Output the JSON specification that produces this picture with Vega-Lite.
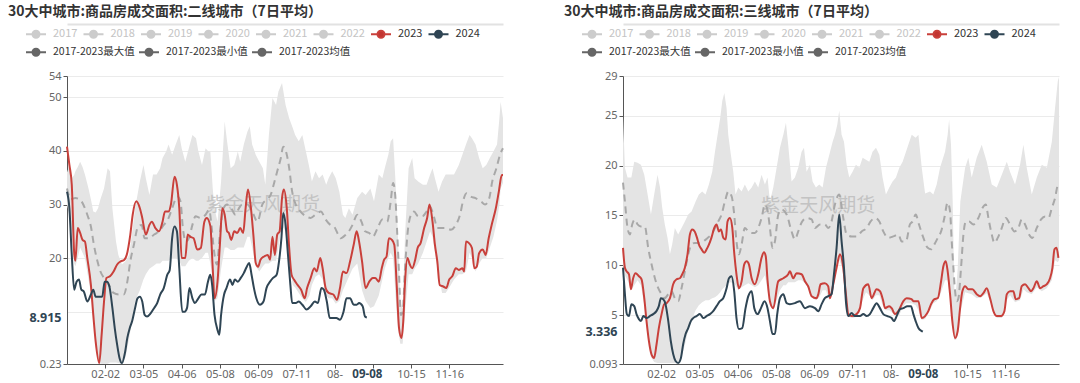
{
"$schema": "https://vega.github.io/schema/vega-lite/v6.json",
"background": "white",
"padding": {"left": 8, "top": 5, "right": 0, "bottom": 0},
"spacing": 57,
"config": {
  "view": {"stroke": null},
  "axis": {"labelFont": "Noto Sans", "labelFontSize": 11, "labelColor": "#666666", "domainColor": "#555555", "tickColor": "#555555", "tickSize": 4, "labelPadding": 2, "gridColor": "#ebebeb", "labelOverlap": false, "labelBound": false, "labelFlush": false},
  "axisX": {"labelPadding": 0},
  "legend": {"padding": 0, "labelLimit": 300, "labelFont": "Noto Sans CJK SC", "labelFontSize": 11},
  "title": {"font": "Noto Sans CJK SC", "fontSize": 14, "fontWeight": "bold", "color": "#333333"}
},
"datasets": {
"Lband": [
{"d":0,"lo":30,"hi":36},{"d":2,"lo":28,"hi":37.4},{"d":4,"lo":24,"hi":34.9},{"d":6,"lo":19,"hi":35.5},{"d":7,"lo":18.5,"hi":36.2},{"d":9,"lo":20,"hi":37},{"d":11,"lo":22,"hi":38},{"d":13,"lo":21,"hi":37},{"d":15,"lo":20,"hi":35.6},{"d":18,"lo":16,"hi":33},{"d":20,"lo":13.5,"hi":31},{"d":22,"lo":8.5,"hi":28.7},{"d":24,"lo":4,"hi":28.5},{"d":26,"lo":1.2,"hi":29.3},{"d":28,"lo":0.3,"hi":31},{"d":31,"lo":0.3,"hi":33},{"d":34,"lo":0.3,"hi":36.8},{"d":36,"lo":0.5,"hi":36.2},{"d":38,"lo":0.5,"hi":29.3},{"d":41,"lo":0.5,"hi":23.1},{"d":43,"lo":0.4,"hi":20.6},{"d":46,"lo":0.3,"hi":18.8},{"d":49,"lo":1.5,"hi":19.4},{"d":52,"lo":5,"hi":20.6},{"d":55,"lo":9,"hi":25.6},{"d":57,"lo":12,"hi":29.3},{"d":61,"lo":14,"hi":34.3},{"d":64,"lo":16,"hi":37.4},{"d":66,"lo":17,"hi":34.9},{"d":69,"lo":18,"hi":31.8},{"d":72,"lo":18.5,"hi":35.6},{"d":75,"lo":19,"hi":35.6},{"d":78,"lo":19,"hi":36.8},{"d":80,"lo":19.5,"hi":38.7},{"d":83,"lo":19.5,"hi":39.9},{"d":85,"lo":19.5,"hi":41.2},{"d":88,"lo":20,"hi":39.3},{"d":91,"lo":20,"hi":41.2},{"d":94,"lo":19.5,"hi":43},{"d":96,"lo":18.5,"hi":40.5},{"d":99,"lo":18.5,"hi":38},{"d":102,"lo":19.5,"hi":40.5},{"d":105,"lo":20,"hi":43},{"d":108,"lo":19.5,"hi":42.4},{"d":110,"lo":19.5,"hi":39.9},{"d":113,"lo":20,"hi":37.4},{"d":116,"lo":21,"hi":40.5},{"d":118,"lo":21,"hi":40},{"d":120,"lo":19,"hi":39.9},{"d":122,"lo":16,"hi":33},{"d":123.5,"lo":12,"hi":29.3},{"d":126,"lo":12.5,"hi":26.8},{"d":129,"lo":18,"hi":34.3},{"d":132,"lo":22,"hi":45.5},{"d":134,"lo":22,"hi":41.8},{"d":137,"lo":21.5,"hi":36.8},{"d":140,"lo":21.5,"hi":37.4},{"d":143,"lo":22,"hi":39.9},{"d":145,"lo":22,"hi":38},{"d":148,"lo":22,"hi":41.2},{"d":151,"lo":24,"hi":43.6},{"d":153,"lo":24,"hi":44.6},{"d":155,"lo":22,"hi":41.2},{"d":158,"lo":18.5,"hi":39.3},{"d":161,"lo":17.5,"hi":38},{"d":164,"lo":18.5,"hi":36.8},{"d":166,"lo":19,"hi":33.7},{"d":169,"lo":19,"hi":43},{"d":172,"lo":19.5,"hi":49.9},{"d":175,"lo":19.5,"hi":48.6},{"d":177,"lo":22,"hi":51.1},{"d":180,"lo":26,"hi":52.7},{"d":183,"lo":25,"hi":48.6},{"d":186,"lo":19,"hi":46.1},{"d":189,"lo":15,"hi":44.3},{"d":191,"lo":14.5,"hi":43},{"d":194,"lo":13.5,"hi":41.8},{"d":197,"lo":12.5,"hi":43},{"d":200,"lo":11.8,"hi":39.9},{"d":203,"lo":13,"hi":36.8},{"d":205,"lo":15,"hi":34.3},{"d":208,"lo":16.5,"hi":36.2},{"d":211,"lo":17,"hi":34.9},{"d":214,"lo":16,"hi":35.6},{"d":217,"lo":13,"hi":33.7},{"d":219,"lo":12.5,"hi":34.9},{"d":222,"lo":12.5,"hi":36.2},{"d":225,"lo":11.5,"hi":34.9},{"d":228,"lo":12,"hi":32.4},{"d":231,"lo":14,"hi":28.1},{"d":233,"lo":15,"hi":27.5},{"d":236,"lo":16.5,"hi":29.3},{"d":239,"lo":18,"hi":28.1},{"d":243,"lo":19,"hi":31.2},{"d":247,"lo":14,"hi":32.4},{"d":250,"lo":12,"hi":31.8},{"d":254,"lo":10.7,"hi":33},{"d":257,"lo":11,"hi":30.6},{"d":261,"lo":13,"hi":35.6},{"d":264,"lo":16,"hi":34.9},{"d":266,"lo":18,"hi":36.8},{"d":269,"lo":20,"hi":39.3},{"d":271,"lo":21,"hi":41.8},{"d":273,"lo":20,"hi":42.4},{"d":275,"lo":13,"hi":34.3},{"d":277,"lo":7,"hi":24.4},{"d":279,"lo":4,"hi":11.9},{"d":281,"lo":4,"hi":10.5},{"d":283,"lo":10,"hi":24.4},{"d":286,"lo":17,"hi":36.8},{"d":289,"lo":17,"hi":38.7},{"d":291,"lo":18,"hi":34.9},{"d":294,"lo":19,"hi":34.3},{"d":298,"lo":21,"hi":33.7},{"d":301,"lo":23,"hi":33.7},{"d":304,"lo":25,"hi":35.6},{"d":306,"lo":24,"hi":36.8},{"d":308,"lo":21,"hi":34.9},{"d":311,"lo":17,"hi":32.4},{"d":314,"lo":13.5,"hi":34.3},{"d":317,"lo":13.5,"hi":35.6},{"d":320,"lo":14.5,"hi":35.6},{"d":324,"lo":16,"hi":35.6},{"d":328,"lo":17,"hi":37.4},{"d":331,"lo":17,"hi":39.3},{"d":334,"lo":17.5,"hi":41.2},{"d":337,"lo":21,"hi":43},{"d":339,"lo":20,"hi":42.4},{"d":342,"lo":17.5,"hi":41.2},{"d":345,"lo":19,"hi":38.7},{"d":348,"lo":20,"hi":36.8},{"d":351,"lo":20,"hi":37.4},{"d":354,"lo":22,"hi":38.7},{"d":357,"lo":24,"hi":39.9},{"d":360,"lo":27,"hi":41.2},{"d":362,"lo":30,"hi":46.1},{"d":363,"lo":33,"hi":49.2},{"d":365,"lo":34,"hi":46.1}
],
"Lline": [
{"s":"avg","d":0,"v":33},{"s":"avg","d":3,"v":31},{"s":"avg","d":7,"v":31.2},{"s":"avg","d":11,"v":30.9},{"s":"avg","d":15,"v":29.3},{"s":"avg","d":17,"v":28.1},{"s":"avg","d":20,"v":25.9},{"s":"avg","d":22.5,"v":22.5},{"s":"avg","d":25.5,"v":19.4},{"s":"avg","d":28,"v":17.5},{"s":"avg","d":31,"v":16.3},{"s":"avg","d":35,"v":15},{"s":"avg","d":39,"v":13.5},{"s":"avg","d":43.5,"v":13.2},{"s":"avg","d":47.5,"v":13.2},{"s":"avg","d":50.5,"v":15.6},{"s":"avg","d":53,"v":19.4},{"s":"avg","d":56,"v":22.5},{"s":"avg","d":59.5,"v":25.9},{"s":"avg","d":62.5,"v":26.2},{"s":"avg","d":65,"v":23.7},{"s":"avg","d":68.5,"v":23.7},{"s":"avg","d":73,"v":24.4},{"s":"avg","d":77,"v":25},{"s":"avg","d":81,"v":26.2},{"s":"avg","d":84.5,"v":27.2},{"s":"avg","d":88,"v":29.3},{"s":"avg","d":92.5,"v":31.5},{"s":"avg","d":95,"v":30.6},{"s":"avg","d":97,"v":25.6},{"s":"avg","d":99.5,"v":23.1},{"s":"avg","d":102,"v":23.7},{"s":"avg","d":105,"v":26.2},{"s":"avg","d":107.5,"v":27.8},{"s":"avg","d":112,"v":27.5},{"s":"avg","d":116,"v":28.1},{"s":"avg","d":119,"v":29},{"s":"avg","d":121,"v":26},{"s":"avg","d":123,"v":21.5},{"s":"avg","d":125.5,"v":18.8},{"s":"avg","d":128,"v":24.4},{"s":"avg","d":131,"v":29.3},{"s":"avg","d":134,"v":30},{"s":"avg","d":137.5,"v":29.3},{"s":"avg","d":141,"v":28.1},{"s":"avg","d":144,"v":29.3},{"s":"avg","d":146.5,"v":30},{"s":"avg","d":151,"v":30},{"s":"avg","d":155,"v":28.7},{"s":"avg","d":159.5,"v":26.8},{"s":"avg","d":163.5,"v":30},{"s":"avg","d":167,"v":30.9},{"s":"avg","d":170.5,"v":31.8},{"s":"avg","d":173,"v":33.7},{"s":"avg","d":176,"v":36.2},{"s":"avg","d":179,"v":38.7},{"s":"avg","d":181,"v":40.8},{"s":"avg","d":184,"v":39.3},{"s":"avg","d":186,"v":36.8},{"s":"avg","d":188.5,"v":32.4},{"s":"avg","d":191.5,"v":30},{"s":"avg","d":195.5,"v":28.7},{"s":"avg","d":200,"v":27.8},{"s":"avg","d":204,"v":27.5},{"s":"avg","d":208,"v":28.1},{"s":"avg","d":212.5,"v":28.7},{"s":"avg","d":216.5,"v":27.2},{"s":"avg","d":220.5,"v":26.2},{"s":"avg","d":223.5,"v":25.9},{"s":"avg","d":227,"v":24.4},{"s":"avg","d":229,"v":23.7},{"s":"avg","d":233.5,"v":24.4},{"s":"avg","d":236,"v":25},{"s":"avg","d":239,"v":26.2},{"s":"avg","d":243,"v":28.1},{"s":"avg","d":246.5,"v":26.8},{"s":"avg","d":249.5,"v":25},{"s":"avg","d":253,"v":24.7},{"s":"avg","d":256,"v":24},{"s":"avg","d":260,"v":25.6},{"s":"avg","d":264,"v":27.2},{"s":"avg","d":268,"v":26.8},{"s":"avg","d":271,"v":30.6},{"s":"avg","d":273,"v":34},{"s":"avg","d":274.5,"v":32.4},{"s":"avg","d":276.5,"v":24.4},{"s":"avg","d":278,"v":16.9},{"s":"avg","d":279.5,"v":9.4},{"s":"avg","d":281,"v":10},{"s":"avg","d":283,"v":18.1},{"s":"avg","d":285,"v":24.4},{"s":"avg","d":288,"v":28.1},{"s":"avg","d":290.5,"v":28.7},{"s":"avg","d":294,"v":27.8},{"s":"avg","d":297.5,"v":27.8},{"s":"avg","d":301,"v":28.7},{"s":"avg","d":303.5,"v":29.7},{"s":"avg","d":307.5,"v":27.5},{"s":"avg","d":310,"v":25.6},{"s":"avg","d":314,"v":25.6},{"s":"avg","d":317,"v":25.6},{"s":"avg","d":321.5,"v":25.3},{"s":"avg","d":325.5,"v":26.2},{"s":"avg","d":329,"v":28.1},{"s":"avg","d":331.5,"v":30.6},{"s":"avg","d":334.5,"v":32.1},{"s":"avg","d":338,"v":31.5},{"s":"avg","d":342,"v":31.2},{"s":"avg","d":346.5,"v":30.6},{"s":"avg","d":350,"v":30},{"s":"avg","d":353.5,"v":31.2},{"s":"avg","d":356,"v":34.3},{"s":"avg","d":359.5,"v":36.8},{"s":"avg","d":362.5,"v":39.3},{"s":"avg","d":365,"v":40.5},
{"s":"2023","d":0,"v":40.8},{"s":"2023","d":2,"v":37.4},{"s":"2023","d":4,"v":33.7},{"s":"2023","d":6,"v":21},{"s":"2023","d":7,"v":19.5},{"s":"2023","d":9,"v":25.6},{"s":"2023","d":11,"v":24.7},{"s":"2023","d":13,"v":23.4},{"s":"2023","d":15,"v":23.1},{"s":"2023","d":17,"v":20},{"s":"2023","d":20,"v":15},{"s":"2023","d":22,"v":9.4},{"s":"2023","d":24,"v":4.4},{"s":"2023","d":27,"v":0.4},{"s":"2023","d":29,"v":5.7},{"s":"2023","d":31,"v":11.9},{"s":"2023","d":33,"v":16.3},{"s":"2023","d":36,"v":16.6},{"s":"2023","d":39,"v":17.5},{"s":"2023","d":42,"v":18.8},{"s":"2023","d":45,"v":19.4},{"s":"2023","d":48,"v":19.7},{"s":"2023","d":50,"v":20.6},{"s":"2023","d":53,"v":24.4},{"s":"2023","d":55,"v":28.1},{"s":"2023","d":58,"v":30.6},{"s":"2023","d":61,"v":29.3},{"s":"2023","d":63,"v":27.5},{"s":"2023","d":66,"v":24.4},{"s":"2023","d":69,"v":26.2},{"s":"2023","d":71,"v":26.8},{"s":"2023","d":74,"v":25.6},{"s":"2023","d":77,"v":25},{"s":"2023","d":80,"v":26.8},{"s":"2023","d":82,"v":28.7},{"s":"2023","d":85,"v":28.7},{"s":"2023","d":87,"v":30},{"s":"2023","d":90,"v":35.2},{"s":"2023","d":92,"v":33.7},{"s":"2023","d":94,"v":29.3},{"s":"2023","d":96,"v":20},{"s":"2023","d":99,"v":20},{"s":"2023","d":101,"v":24.4},{"s":"2023","d":103,"v":24},{"s":"2023","d":106,"v":23.7},{"s":"2023","d":109,"v":21.6},{"s":"2023","d":112,"v":21.9},{"s":"2023","d":115,"v":26.8},{"s":"2023","d":117,"v":27.5},{"s":"2023","d":120,"v":26},{"s":"2023","d":122,"v":18.1},{"s":"2023","d":123.5,"v":12.5},{"s":"2023","d":126,"v":15.6},{"s":"2023","d":128,"v":22.5},{"s":"2023","d":130,"v":29.3},{"s":"2023","d":132,"v":28.1},{"s":"2023","d":134,"v":25},{"s":"2023","d":135.5,"v":24.7},{"s":"2023","d":137.5,"v":23.4},{"s":"2023","d":140,"v":25},{"s":"2023","d":142.5,"v":24.7},{"s":"2023","d":145,"v":25.6},{"s":"2023","d":147.5,"v":24.7},{"s":"2023","d":149.5,"v":29.3},{"s":"2023","d":151.5,"v":32.8},{"s":"2023","d":154,"v":29.3},{"s":"2023","d":156,"v":24.4},{"s":"2023","d":158,"v":19.1},{"s":"2023","d":160,"v":18.4},{"s":"2023","d":162,"v":19.7},{"s":"2023","d":165,"v":20.3},{"s":"2023","d":168,"v":20.6},{"s":"2023","d":170,"v":19.7},{"s":"2023","d":172,"v":24},{"s":"2023","d":174,"v":20.6},{"s":"2023","d":176,"v":24.4},{"s":"2023","d":178,"v":25},{"s":"2023","d":180,"v":31.2},{"s":"2023","d":181.5,"v":32.8},{"s":"2023","d":184,"v":29.3},{"s":"2023","d":186,"v":21.9},{"s":"2023","d":188,"v":16.9},{"s":"2023","d":190,"v":16},{"s":"2023","d":193,"v":15},{"s":"2023","d":196,"v":14.1},{"s":"2023","d":199,"v":12.5},{"s":"2023","d":201,"v":14.4},{"s":"2023","d":204,"v":16.3},{"s":"2023","d":207,"v":18.1},{"s":"2023","d":209,"v":17.5},{"s":"2023","d":212,"v":20},{"s":"2023","d":214,"v":18.1},{"s":"2023","d":216.5,"v":14.4},{"s":"2023","d":219,"v":13.5},{"s":"2023","d":223,"v":13.2},{"s":"2023","d":226,"v":12.2},{"s":"2023","d":228.5,"v":14.4},{"s":"2023","d":231,"v":17.5},{"s":"2023","d":234,"v":17.2},{"s":"2023","d":237,"v":19.4},{"s":"2023","d":240,"v":22.5},{"s":"2023","d":242.5,"v":25},{"s":"2023","d":244.5,"v":23.1},{"s":"2023","d":247,"v":19.4},{"s":"2023","d":250,"v":14.4},{"s":"2023","d":253,"v":15.6},{"s":"2023","d":256,"v":16.3},{"s":"2023","d":258,"v":16.3},{"s":"2023","d":261,"v":15.6},{"s":"2023","d":263.5,"v":18.1},{"s":"2023","d":265.5,"v":19.7},{"s":"2023","d":267.5,"v":20.3},{"s":"2023","d":269.5,"v":23.7},{"s":"2023","d":272,"v":23.4},{"s":"2023","d":274,"v":22.5},{"s":"2023","d":276,"v":15},{"s":"2023","d":278,"v":6.9},{"s":"2023","d":280,"v":5.1},{"s":"2023","d":281.5,"v":8.2},{"s":"2023","d":283,"v":15.6},{"s":"2023","d":285,"v":20},{"s":"2023","d":287,"v":18.8},{"s":"2023","d":289,"v":18.1},{"s":"2023","d":291.5,"v":19.7},{"s":"2023","d":293.5,"v":21.9},{"s":"2023","d":296,"v":22.8},{"s":"2023","d":299,"v":25.6},{"s":"2023","d":301.5,"v":27.5},{"s":"2023","d":303.5,"v":30},{"s":"2023","d":306,"v":26.8},{"s":"2023","d":308,"v":22.5},{"s":"2023","d":310,"v":19.4},{"s":"2023","d":312,"v":15},{"s":"2023","d":315,"v":14.7},{"s":"2023","d":317.5,"v":14.4},{"s":"2023","d":320,"v":16},{"s":"2023","d":322.5,"v":16.6},{"s":"2023","d":325.5,"v":18.1},{"s":"2023","d":328,"v":17.8},{"s":"2023","d":331,"v":18.1},{"s":"2023","d":332.5,"v":17.5},{"s":"2023","d":334,"v":23.1},{"s":"2023","d":336.5,"v":22.8},{"s":"2023","d":339,"v":21.9},{"s":"2023","d":341,"v":18.1},{"s":"2023","d":343,"v":18.4},{"s":"2023","d":345,"v":20.9},{"s":"2023","d":348,"v":21.6},{"s":"2023","d":350.5,"v":20.6},{"s":"2023","d":353,"v":23.7},{"s":"2023","d":355.5,"v":26.2},{"s":"2023","d":359,"v":29.3},{"s":"2023","d":361.5,"v":32.4},{"s":"2023","d":364,"v":35.5},{"s":"2023","d":365,"v":35.5},
{"s":"2024","d":0,"v":32.4},{"s":"2024","d":2,"v":29.3},{"s":"2024","d":4,"v":20.6},{"s":"2024","d":6,"v":14.1},{"s":"2024","d":8,"v":15.6},{"s":"2024","d":10,"v":16},{"s":"2024","d":12,"v":14.1},{"s":"2024","d":14,"v":13.8},{"s":"2024","d":17,"v":11.9},{"s":"2024","d":20,"v":13.2},{"s":"2024","d":22,"v":14.1},{"s":"2024","d":24,"v":12.8},{"s":"2024","d":27,"v":12.8},{"s":"2024","d":29.5,"v":12.8},{"s":"2024","d":31.5,"v":15.6},{"s":"2024","d":33.5,"v":15.6},{"s":"2024","d":35.5,"v":14.7},{"s":"2024","d":38,"v":10.7},{"s":"2024","d":40,"v":6.9},{"s":"2024","d":42,"v":3.8},{"s":"2024","d":44,"v":1.3},{"s":"2024","d":46,"v":0.4},{"s":"2024","d":48.5,"v":2.3},{"s":"2024","d":50.5,"v":5.1},{"s":"2024","d":52.5,"v":6.9},{"s":"2024","d":54.5,"v":8.2},{"s":"2024","d":57,"v":10.7},{"s":"2024","d":59,"v":12.5},{"s":"2024","d":61,"v":12.8},{"s":"2024","d":63,"v":11.9},{"s":"2024","d":65,"v":9.4},{"s":"2024","d":67,"v":9.1},{"s":"2024","d":70,"v":9.7},{"s":"2024","d":73,"v":10.7},{"s":"2024","d":75.5,"v":11.6},{"s":"2024","d":78,"v":13.2},{"s":"2024","d":81,"v":14.4},{"s":"2024","d":84,"v":16.9},{"s":"2024","d":86,"v":17.8},{"s":"2024","d":88,"v":23.7},{"s":"2024","d":90,"v":25.9},{"s":"2024","d":92,"v":25},{"s":"2024","d":94,"v":18.1},{"s":"2024","d":96.5,"v":10},{"s":"2024","d":98.5,"v":10},{"s":"2024","d":100.5,"v":10.7},{"s":"2024","d":102.5,"v":14.4},{"s":"2024","d":105,"v":12.5},{"s":"2024","d":107,"v":11.6},{"s":"2024","d":110,"v":12.5},{"s":"2024","d":112.5,"v":13.2},{"s":"2024","d":115.5,"v":13.2},{"s":"2024","d":118,"v":15.6},{"s":"2024","d":120,"v":16.9},{"s":"2024","d":121.5,"v":15},{"s":"2024","d":123.5,"v":9.4},{"s":"2024","d":126,"v":6.6},{"s":"2024","d":127.5,"v":5.7},{"s":"2024","d":129,"v":9.4},{"s":"2024","d":131.5,"v":13.2},{"s":"2024","d":133.5,"v":14.4},{"s":"2024","d":136.5,"v":16},{"s":"2024","d":138.5,"v":15},{"s":"2024","d":140.5,"v":16},{"s":"2024","d":143,"v":15.6},{"s":"2024","d":145.5,"v":16.3},{"s":"2024","d":148,"v":17.2},{"s":"2024","d":150.5,"v":18.4},{"s":"2024","d":152.5,"v":19.1},{"s":"2024","d":154.5,"v":16.9},{"s":"2024","d":156.5,"v":14.4},{"s":"2024","d":158.5,"v":12.5},{"s":"2024","d":161.5,"v":11.3},{"s":"2024","d":164.5,"v":11.9},{"s":"2024","d":167,"v":14.4},{"s":"2024","d":170,"v":15.6},{"s":"2024","d":172.5,"v":16.3},{"s":"2024","d":175.5,"v":16.9},{"s":"2024","d":177.5,"v":19.4},{"s":"2024","d":179.5,"v":23.7},{"s":"2024","d":181,"v":28.4},{"s":"2024","d":183,"v":26.2},{"s":"2024","d":185,"v":20.6},{"s":"2024","d":187,"v":15},{"s":"2024","d":188.5,"v":11.6},{"s":"2024","d":191.5,"v":11.6},{"s":"2024","d":194,"v":11.9},{"s":"2024","d":197,"v":11.3},{"s":"2024","d":200.5,"v":10.4},{"s":"2024","d":204,"v":11},{"s":"2024","d":207.5,"v":11.9},{"s":"2024","d":210,"v":11.6},{"s":"2024","d":213,"v":14.4},{"s":"2024","d":215,"v":14.1},{"s":"2024","d":217.5,"v":11.9},{"s":"2024","d":220,"v":8.8},{"s":"2024","d":223,"v":8.8},{"s":"2024","d":225.5,"v":8.8},{"s":"2024","d":228.5,"v":8.5},{"s":"2024","d":231.5,"v":10},{"s":"2024","d":234,"v":12.5},{"s":"2024","d":237,"v":12.5},{"s":"2024","d":240,"v":11.3},{"s":"2024","d":242.5,"v":11.3},{"s":"2024","d":244.5,"v":11.6},{"s":"2024","d":247.5,"v":11},{"s":"2024","d":249.5,"v":9.1},{"s":"2024","d":251,"v":8.915}
],
"Rband": [
{"d":0,"lo":10,"hi":25},{"d":1.6,"lo":9,"hi":19.8},{"d":3.8,"lo":8.5,"hi":18.8},{"d":7,"lo":7.5,"hi":18.8},{"d":9.4,"lo":8,"hi":20.4},{"d":12.2,"lo":8.5,"hi":20.3},{"d":15,"lo":8,"hi":20.1},{"d":17.8,"lo":6,"hi":19.1},{"d":20.6,"lo":3.5,"hi":17.1},{"d":23.4,"lo":0.8,"hi":15.1},{"d":26.1,"lo":0.3,"hi":17.1},{"d":28.9,"lo":0.2,"hi":19.1},{"d":31,"lo":0.2,"hi":17.8},{"d":32.8,"lo":0.2,"hi":15.8},{"d":35,"lo":0.2,"hi":14.1},{"d":37.3,"lo":0.2,"hi":12.75},{"d":39.3,"lo":0.2,"hi":11.1},{"d":41.2,"lo":0.2,"hi":12.1},{"d":43.4,"lo":0.2,"hi":13.75},{"d":46.2,"lo":0.3,"hi":13.1},{"d":49,"lo":0.8,"hi":13.75},{"d":51.8,"lo":2,"hi":14.4},{"d":54.6,"lo":3.5,"hi":15.1},{"d":57.4,"lo":4.5,"hi":15.4},{"d":60.8,"lo":5.5,"hi":16.4},{"d":63.5,"lo":6,"hi":17.1},{"d":66.3,"lo":6.3,"hi":17.4},{"d":69.1,"lo":6.5,"hi":17.1},{"d":71.9,"lo":6.5,"hi":18.1},{"d":74.7,"lo":6.7,"hi":19.4},{"d":77,"lo":6.8,"hi":21.4},{"d":79.2,"lo":7,"hi":23.1},{"d":81.4,"lo":7.3,"hi":24.8},{"d":83.1,"lo":7.6,"hi":26.5},{"d":84.8,"lo":7.8,"hi":27.3},{"d":86.7,"lo":8,"hi":25.8},{"d":88.1,"lo":8.2,"hi":23.1},{"d":90.3,"lo":8.3,"hi":21.1},{"d":92.3,"lo":8.2,"hi":19.4},{"d":94.2,"lo":8,"hi":17.1},{"d":96.5,"lo":7.5,"hi":17.8},{"d":99.3,"lo":7.8,"hi":17.4},{"d":102,"lo":8,"hi":18.1},{"d":104.9,"lo":8.2,"hi":17.4},{"d":107.7,"lo":8,"hi":17.8},{"d":110.4,"lo":7.8,"hi":18.4},{"d":113.2,"lo":8,"hi":17.8},{"d":116,"lo":8.5,"hi":19.1},{"d":118.8,"lo":9,"hi":18.1},{"d":121,"lo":7.5,"hi":18.8},{"d":123,"lo":6,"hi":16.4},{"d":125.8,"lo":5.5,"hi":17.8},{"d":128.6,"lo":6.5,"hi":19.8},{"d":131.4,"lo":7.5,"hi":21.8},{"d":134.2,"lo":8,"hi":23.1},{"d":136.4,"lo":8,"hi":24.3},{"d":138.3,"lo":8.3,"hi":22.1},{"d":141.1,"lo":8.3,"hi":18.4},{"d":143.9,"lo":8.3,"hi":18.8},{"d":146.7,"lo":8.5,"hi":19.8},{"d":149.5,"lo":8.5,"hi":21.4},{"d":151.5,"lo":8.3,"hi":21.8},{"d":153.7,"lo":8,"hi":19.4},{"d":156.5,"lo":7.4,"hi":20.1},{"d":158.7,"lo":6.7,"hi":18.4},{"d":161.5,"lo":6.5,"hi":17.8},{"d":164.3,"lo":6.8,"hi":18.1},{"d":167.1,"lo":7.5,"hi":17.8},{"d":169.9,"lo":7.5,"hi":19.8},{"d":172.7,"lo":6.5,"hi":21.1},{"d":175.5,"lo":7.5,"hi":22.4},{"d":177.4,"lo":9,"hi":23.1},{"d":179.4,"lo":10,"hi":24.1},{"d":181,"lo":10.5,"hi":25.5},{"d":183,"lo":10,"hi":23.1},{"d":185,"lo":8.5,"hi":22.4},{"d":187.2,"lo":6,"hi":20.1},{"d":189.4,"lo":4.8,"hi":18.8},{"d":192.2,"lo":4.7,"hi":19.4},{"d":195,"lo":4.8,"hi":20.1},{"d":197.8,"lo":5.2,"hi":19.8},{"d":200.6,"lo":6.5,"hi":20.8},{"d":203.4,"lo":7.3,"hi":20.6},{"d":206.2,"lo":7,"hi":20.4},{"d":208.9,"lo":6.5,"hi":21.4},{"d":211.8,"lo":7,"hi":21.8},{"d":214.6,"lo":7,"hi":21.1},{"d":217.3,"lo":6,"hi":18.8},{"d":220.1,"lo":5.5,"hi":17.1},{"d":222.9,"lo":5.5,"hi":17.8},{"d":225.7,"lo":5.2,"hi":18.4},{"d":228.5,"lo":4.8,"hi":18.8},{"d":231.3,"lo":5,"hi":19.8},{"d":234.1,"lo":5.8,"hi":20.4},{"d":236.9,"lo":6.2,"hi":21.4},{"d":239.7,"lo":6.2,"hi":22.4},{"d":241.7,"lo":6.2,"hi":23.1},{"d":245,"lo":6,"hi":22.8},{"d":247.3,"lo":5.5,"hi":23.1},{"d":250.1,"lo":4.5,"hi":19.8},{"d":252.9,"lo":4.6,"hi":17.2},{"d":257,"lo":5.5,"hi":17.4},{"d":259.8,"lo":6.2,"hi":17.1},{"d":262.6,"lo":6.4,"hi":18.1},{"d":265.4,"lo":7,"hi":19.8},{"d":269.6,"lo":8.5,"hi":21.4},{"d":271.8,"lo":8.5,"hi":23.1},{"d":273,"lo":7.5,"hi":24.6},{"d":274.6,"lo":6,"hi":22.1},{"d":276,"lo":4,"hi":16.4},{"d":277.4,"lo":2.5,"hi":7.5},{"d":278.8,"lo":2.5,"hi":7.5},{"d":280.2,"lo":3,"hi":9.7},{"d":282.4,"lo":5.3,"hi":16.4},{"d":286.4,"lo":7.3,"hi":19.8},{"d":289.1,"lo":7.2,"hi":20.8},{"d":291.9,"lo":7.1,"hi":18.8},{"d":296.1,"lo":6.7,"hi":20.8},{"d":300.3,"lo":6.8,"hi":22.1},{"d":304.5,"lo":7.2,"hi":20.4},{"d":308.7,"lo":6,"hi":18.1},{"d":312.9,"lo":4.7,"hi":17.8},{"d":317.1,"lo":4.7,"hi":19.1},{"d":321.3,"lo":6.5,"hi":20.4},{"d":324,"lo":7,"hi":19.4},{"d":328.2,"lo":6.3,"hi":18.1},{"d":332.4,"lo":6.5,"hi":20.1},{"d":335.2,"lo":7.6,"hi":22.1},{"d":338,"lo":7.3,"hi":19.8},{"d":342.2,"lo":7.1,"hi":17.1},{"d":346.4,"lo":7.8,"hi":18.8},{"d":350.6,"lo":7.4,"hi":20.1},{"d":354.8,"lo":7.7,"hi":19.8},{"d":359,"lo":8.5,"hi":22.4},{"d":361.7,"lo":10.5,"hi":25.8},{"d":364,"lo":10.3,"hi":28.5},{"d":365,"lo":10.5,"hi":28.9}
],
"Rline": [
{"s":"avg","d":0,"v":18.3},{"s":"avg","d":1.6,"v":16.4},{"s":"avg","d":3.8,"v":13.75},{"s":"avg","d":5.8,"v":13.1},{"s":"avg","d":7.7,"v":14.1},{"s":"avg","d":10,"v":14.6},{"s":"avg","d":12.2,"v":14.1},{"s":"avg","d":15,"v":13.9},{"s":"avg","d":18.3,"v":13.9},{"s":"avg","d":21.1,"v":11.75},{"s":"avg","d":23.9,"v":10.1},{"s":"avg","d":26.7,"v":8.7},{"s":"avg","d":29.5,"v":7.7},{"s":"avg","d":32.3,"v":7.1},{"s":"avg","d":35,"v":6.7},{"s":"avg","d":37.9,"v":7.1},{"s":"avg","d":40.6,"v":7.4},{"s":"avg","d":43.4,"v":6.7},{"s":"avg","d":46.2,"v":6.4},{"s":"avg","d":49,"v":7.7},{"s":"avg","d":51.8,"v":9.4},{"s":"avg","d":54.6,"v":11.1},{"s":"avg","d":57.4,"v":12.1},{"s":"avg","d":60.2,"v":12.25},{"s":"avg","d":63.5,"v":12.25},{"s":"avg","d":67.2,"v":12.4},{"s":"avg","d":70.8,"v":12.75},{"s":"avg","d":74.1,"v":13.1},{"s":"avg","d":77,"v":13.75},{"s":"avg","d":79.7,"v":14.4},{"s":"avg","d":82.5,"v":15.1},{"s":"avg","d":85.3,"v":16.4},{"s":"avg","d":88.2,"v":17.4},{"s":"avg","d":91,"v":16.9},{"s":"avg","d":93.1,"v":15.1},{"s":"avg","d":95,"v":12.4},{"s":"avg","d":97,"v":11.1},{"s":"avg","d":99.3,"v":12.1},{"s":"avg","d":102,"v":13.75},{"s":"avg","d":104.9,"v":13.4},{"s":"avg","d":107.7,"v":13.25},{"s":"avg","d":110.4,"v":13.25},{"s":"avg","d":113.2,"v":13.75},{"s":"avg","d":116,"v":14.75},{"s":"avg","d":118.8,"v":16.1},{"s":"avg","d":121,"v":15.5},{"s":"avg","d":123,"v":13.75},{"s":"avg","d":125.2,"v":11.75},{"s":"avg","d":127.2,"v":12.4},{"s":"avg","d":130,"v":15.1},{"s":"avg","d":132.8,"v":15.6},{"s":"avg","d":137,"v":15.1},{"s":"avg","d":141.1,"v":13.4},{"s":"avg","d":143.9,"v":12.6},{"s":"avg","d":146.7,"v":13.4},{"s":"avg","d":149.5,"v":14.3},{"s":"avg","d":153.7,"v":14.75},{"s":"avg","d":157.9,"v":14.6},{"s":"avg","d":160.7,"v":13.75},{"s":"avg","d":164.9,"v":14.1},{"s":"avg","d":169,"v":14.1},{"s":"avg","d":171.9,"v":13.75},{"s":"avg","d":174.6,"v":14.4},{"s":"avg","d":177.4,"v":16.1},{"s":"avg","d":181,"v":17.1},{"s":"avg","d":184.4,"v":14.75},{"s":"avg","d":187.2,"v":13.1},{"s":"avg","d":191.4,"v":12.9},{"s":"avg","d":195.6,"v":12.9},{"s":"avg","d":199.8,"v":13.4},{"s":"avg","d":204,"v":13.75},{"s":"avg","d":207.3,"v":14.4},{"s":"avg","d":210.9,"v":14.75},{"s":"avg","d":214.6,"v":14.4},{"s":"avg","d":217.9,"v":13.4},{"s":"avg","d":222.1,"v":12.75},{"s":"avg","d":226.3,"v":12.9},{"s":"avg","d":230.5,"v":13.1},{"s":"avg","d":233.3,"v":12.4},{"s":"avg","d":236.9,"v":12.4},{"s":"avg","d":240.2,"v":14.1},{"s":"avg","d":242.5,"v":14.4},{"s":"avg","d":245,"v":15.1},{"s":"avg","d":247.8,"v":14.1},{"s":"avg","d":251.5,"v":12.75},{"s":"avg","d":255.1,"v":11.75},{"s":"avg","d":257.9,"v":11.6},{"s":"avg","d":260.7,"v":12.1},{"s":"avg","d":263.5,"v":12.75},{"s":"avg","d":266.3,"v":13.4},{"s":"avg","d":269,"v":14.75},{"s":"avg","d":271.8,"v":16.3},{"s":"avg","d":273.8,"v":15.4},{"s":"avg","d":275.2,"v":12.4},{"s":"avg","d":276.6,"v":9.75},{"s":"avg","d":278,"v":7.4},{"s":"avg","d":279.4,"v":6.4},{"s":"avg","d":280.8,"v":6.7},{"s":"avg","d":283,"v":9.75},{"s":"avg","d":285,"v":13.1},{"s":"avg","d":287,"v":14.4},{"s":"avg","d":289.7,"v":14.4},{"s":"avg","d":293.3,"v":14.1},{"s":"avg","d":297.5,"v":14.75},{"s":"avg","d":300.9,"v":15.75},{"s":"avg","d":303.7,"v":16.1},{"s":"avg","d":305.9,"v":14.75},{"s":"avg","d":308.7,"v":13.1},{"s":"avg","d":310.9,"v":12.25},{"s":"avg","d":313.7,"v":12.75},{"s":"avg","d":317.1,"v":13.75},{"s":"avg","d":320.4,"v":14.75},{"s":"avg","d":324,"v":14.1},{"s":"avg","d":327.7,"v":13.4},{"s":"avg","d":331,"v":13.75},{"s":"avg","d":333.8,"v":14.6},{"s":"avg","d":336.6,"v":14.1},{"s":"avg","d":339.9,"v":13.1},{"s":"avg","d":342.7,"v":12.75},{"s":"avg","d":346.4,"v":13.75},{"s":"avg","d":350,"v":14.6},{"s":"avg","d":353.4,"v":14.9},{"s":"avg","d":356.2,"v":14.75},{"s":"avg","d":359,"v":15.75},{"s":"avg","d":361.7,"v":16.75},{"s":"avg","d":364,"v":18.1},{"s":"avg","d":365,"v":18.3},
{"s":"2023","d":0,"v":11.75},{"s":"2023","d":1.6,"v":9.75},{"s":"2023","d":3,"v":9.4},{"s":"2023","d":5,"v":9.1},{"s":"2023","d":6.6,"v":7.6},{"s":"2023","d":8.5,"v":8.7},{"s":"2023","d":10.5,"v":9.2},{"s":"2023","d":13.3,"v":8.9},{"s":"2023","d":15.5,"v":8.6},{"s":"2023","d":17.8,"v":6.7},{"s":"2023","d":19.7,"v":4.4},{"s":"2023","d":21.7,"v":2.4},{"s":"2023","d":24,"v":1},{"s":"2023","d":26,"v":0.7},{"s":"2023","d":28,"v":2},{"s":"2023","d":30,"v":3.7},{"s":"2023","d":32.3,"v":5.1},{"s":"2023","d":34.5,"v":6.1},{"s":"2023","d":36.5,"v":6.2},{"s":"2023","d":39.3,"v":6.7},{"s":"2023","d":42,"v":8.1},{"s":"2023","d":44.8,"v":8.6},{"s":"2023","d":47.6,"v":8.7},{"s":"2023","d":49.6,"v":9.1},{"s":"2023","d":51.8,"v":9.75},{"s":"2023","d":54,"v":11.1},{"s":"2023","d":56,"v":13.1},{"s":"2023","d":58,"v":13.6},{"s":"2023","d":60,"v":13.4},{"s":"2023","d":62,"v":12.75},{"s":"2023","d":63.5,"v":12.1},{"s":"2023","d":65.8,"v":11.6},{"s":"2023","d":68,"v":11.25},{"s":"2023","d":70,"v":11.6},{"s":"2023","d":72,"v":12.1},{"s":"2023","d":74,"v":12.75},{"s":"2023","d":76.4,"v":13.75},{"s":"2023","d":78.3,"v":14.1},{"s":"2023","d":80.3,"v":13.4},{"s":"2023","d":82,"v":13.6},{"s":"2023","d":84,"v":12.75},{"s":"2023","d":86,"v":12.6},{"s":"2023","d":87.5,"v":14.4},{"s":"2023","d":89.5,"v":14.75},{"s":"2023","d":91.5,"v":13.75},{"s":"2023","d":93,"v":11.4},{"s":"2023","d":95,"v":9.1},{"s":"2023","d":97,"v":7.7},{"s":"2023","d":99.3,"v":8.4},{"s":"2023","d":101.5,"v":10.1},{"s":"2023","d":103.5,"v":10.4},{"s":"2023","d":105.4,"v":10.1},{"s":"2023","d":107.7,"v":8.7},{"s":"2023","d":110.4,"v":8.1},{"s":"2023","d":113.2,"v":9.1},{"s":"2023","d":116,"v":10.75},{"s":"2023","d":118,"v":11.3},{"s":"2023","d":119.5,"v":10.9},{"s":"2023","d":121,"v":8.5},{"s":"2023","d":123,"v":6.4},{"s":"2023","d":125.8,"v":5.7},{"s":"2023","d":130,"v":8.4},{"s":"2023","d":134.2,"v":8.7},{"s":"2023","d":138.3,"v":9.1},{"s":"2023","d":139.7,"v":9.4},{"s":"2023","d":142.5,"v":8.7},{"s":"2023","d":145.3,"v":9.2},{"s":"2023","d":149.5,"v":9.1},{"s":"2023","d":152.3,"v":8.4},{"s":"2023","d":155,"v":7.9},{"s":"2023","d":157.9,"v":6.9},{"s":"2023","d":162,"v":6.7},{"s":"2023","d":163.5,"v":7.1},{"s":"2023","d":165.4,"v":8.1},{"s":"2023","d":169,"v":8.2},{"s":"2023","d":171.8,"v":7.9},{"s":"2023","d":173.2,"v":6.7},{"s":"2023","d":176,"v":8.1},{"s":"2023","d":178.8,"v":9.75},{"s":"2023","d":181.6,"v":11.1},{"s":"2023","d":184.4,"v":9.75},{"s":"2023","d":186.6,"v":7.1},{"s":"2023","d":188.6,"v":5.1},{"s":"2023","d":191.4,"v":4.9},{"s":"2023","d":195.6,"v":5.1},{"s":"2023","d":198.4,"v":5.7},{"s":"2023","d":201.2,"v":7.7},{"s":"2023","d":205.3,"v":8.1},{"s":"2023","d":208.1,"v":6.7},{"s":"2023","d":212.3,"v":7.6},{"s":"2023","d":215.1,"v":7.4},{"s":"2023","d":217.9,"v":6.4},{"s":"2023","d":219.3,"v":5.7},{"s":"2023","d":222.9,"v":5.9},{"s":"2023","d":224.9,"v":5.7},{"s":"2023","d":227.7,"v":5.1},{"s":"2023","d":230.5,"v":5.4},{"s":"2023","d":234.7,"v":6.4},{"s":"2023","d":237.4,"v":6.7},{"s":"2023","d":241.6,"v":6.6},{"s":"2023","d":243.1,"v":6.4},{"s":"2023","d":247.3,"v":6.4},{"s":"2023","d":250.1,"v":4.7},{"s":"2023","d":252.9,"v":4.9},{"s":"2023","d":255.6,"v":5.4},{"s":"2023","d":257.9,"v":6.1},{"s":"2023","d":260.7,"v":6.6},{"s":"2023","d":263.5,"v":6.7},{"s":"2023","d":266.3,"v":8.4},{"s":"2023","d":268.2,"v":9.9},{"s":"2023","d":270.2,"v":10.4},{"s":"2023","d":271.8,"v":9.4},{"s":"2023","d":273.8,"v":7.1},{"s":"2023","d":275.7,"v":4.4},{"s":"2023","d":278,"v":2.7},{"s":"2023","d":280.2,"v":3.4},{"s":"2023","d":282.2,"v":5.7},{"s":"2023","d":284.1,"v":7.4},{"s":"2023","d":286.4,"v":7.9},{"s":"2023","d":289.1,"v":7.6},{"s":"2023","d":292.5,"v":7.6},{"s":"2023","d":296.1,"v":7.1},{"s":"2023","d":298.9,"v":6.9},{"s":"2023","d":301.7,"v":7.2},{"s":"2023","d":304.5,"v":7.7},{"s":"2023","d":307.3,"v":6.7},{"s":"2023","d":310.1,"v":5.4},{"s":"2023","d":312.9,"v":4.9},{"s":"2023","d":316.5,"v":4.9},{"s":"2023","d":319.3,"v":5.4},{"s":"2023","d":321.3,"v":7.1},{"s":"2023","d":324,"v":7.4},{"s":"2023","d":326.8,"v":7.4},{"s":"2023","d":328.8,"v":6.6},{"s":"2023","d":331.6,"v":6.7},{"s":"2023","d":333.8,"v":7.9},{"s":"2023","d":336.6,"v":8.1},{"s":"2023","d":339.4,"v":7.7},{"s":"2023","d":341.6,"v":7.4},{"s":"2023","d":343.6,"v":7.7},{"s":"2023","d":346.4,"v":8.4},{"s":"2023","d":349.2,"v":7.7},{"s":"2023","d":352,"v":7.9},{"s":"2023","d":354.8,"v":8.1},{"s":"2023","d":357.5,"v":8.7},{"s":"2023","d":359.5,"v":9.75},{"s":"2023","d":361.2,"v":11.6},{"s":"2023","d":362.9,"v":11.75},{"s":"2023","d":364.5,"v":10.75},
{"s":"2024","d":0,"v":9.75},{"s":"2024","d":1.6,"v":7.1},{"s":"2024","d":3.2,"v":5.1},{"s":"2024","d":5,"v":4.9},{"s":"2024","d":7,"v":6.1},{"s":"2024","d":9.4,"v":5.9},{"s":"2024","d":11.3,"v":5.1},{"s":"2024","d":13.3,"v":4.6},{"s":"2024","d":15,"v":4.4},{"s":"2024","d":17,"v":4.9},{"s":"2024","d":19.7,"v":4.7},{"s":"2024","d":22.5,"v":4.9},{"s":"2024","d":25.3,"v":5.1},{"s":"2024","d":28,"v":5.4},{"s":"2024","d":30,"v":5.9},{"s":"2024","d":31.7,"v":6.7},{"s":"2024","d":33.7,"v":6.6},{"s":"2024","d":35.6,"v":6.1},{"s":"2024","d":37.9,"v":4.4},{"s":"2024","d":40,"v":2.4},{"s":"2024","d":42,"v":1.1},{"s":"2024","d":44,"v":0.4},{"s":"2024","d":46.2,"v":0.2},{"s":"2024","d":48.5,"v":0.7},{"s":"2024","d":50.4,"v":2.1},{"s":"2024","d":52.4,"v":3.1},{"s":"2024","d":54.6,"v":3.7},{"s":"2024","d":56.8,"v":4.4},{"s":"2024","d":58.8,"v":4.7},{"s":"2024","d":61.6,"v":4.9},{"s":"2024","d":64.4,"v":5.1},{"s":"2024","d":67.2,"v":4.7},{"s":"2024","d":70,"v":4.9},{"s":"2024","d":72.8,"v":5.1},{"s":"2024","d":75.5,"v":5.4},{"s":"2024","d":78.3,"v":5.9},{"s":"2024","d":81.1,"v":6.4},{"s":"2024","d":83.9,"v":6.7},{"s":"2024","d":86.7,"v":7.7},{"s":"2024","d":88.7,"v":8.7},{"s":"2024","d":90.9,"v":8.9},{"s":"2024","d":93.1,"v":7.4},{"s":"2024","d":95,"v":4.7},{"s":"2024","d":97,"v":3.6},{"s":"2024","d":99.8,"v":3.7},{"s":"2024","d":102.6,"v":5.7},{"s":"2024","d":104.9,"v":6.9},{"s":"2024","d":107.7,"v":7.4},{"s":"2024","d":109.9,"v":5.7},{"s":"2024","d":112.7,"v":5.1},{"s":"2024","d":115.5,"v":5.7},{"s":"2024","d":118.5,"v":6.4},{"s":"2024","d":121,"v":5.7},{"s":"2024","d":123,"v":4.4},{"s":"2024","d":125.2,"v":3.1},{"s":"2024","d":127.2,"v":3.1},{"s":"2024","d":129.1,"v":5.1},{"s":"2024","d":131.4,"v":6.7},{"s":"2024","d":134.2,"v":7.1},{"s":"2024","d":137,"v":6.2},{"s":"2024","d":139.7,"v":6.1},{"s":"2024","d":143.9,"v":6.2},{"s":"2024","d":148.1,"v":6.4},{"s":"2024","d":152.3,"v":5.7},{"s":"2024","d":156.5,"v":5.9},{"s":"2024","d":160.7,"v":5.7},{"s":"2024","d":163.5,"v":5.4},{"s":"2024","d":166.3,"v":6.1},{"s":"2024","d":169,"v":6.7},{"s":"2024","d":171.9,"v":6.9},{"s":"2024","d":174.6,"v":7.1},{"s":"2024","d":176.6,"v":9.1},{"s":"2024","d":178.8,"v":11.75},{"s":"2024","d":181,"v":15.1},{"s":"2024","d":183,"v":12.4},{"s":"2024","d":185,"v":9.75},{"s":"2024","d":186.6,"v":6.4},{"s":"2024","d":188.6,"v":4.9},{"s":"2024","d":191.4,"v":5.2},{"s":"2024","d":194.2,"v":4.9},{"s":"2024","d":198.4,"v":4.9},{"s":"2024","d":201.2,"v":5.1},{"s":"2024","d":204,"v":4.9},{"s":"2024","d":206.7,"v":5.1},{"s":"2024","d":209.5,"v":5.7},{"s":"2024","d":212.3,"v":6.2},{"s":"2024","d":215.1,"v":5.7},{"s":"2024","d":217.9,"v":5.1},{"s":"2024","d":221.3,"v":4.9},{"s":"2024","d":224.9,"v":4.7},{"s":"2024","d":226.8,"v":4.4},{"s":"2024","d":229.1,"v":4.9},{"s":"2024","d":231.9,"v":5.6},{"s":"2024","d":234.7,"v":5.7},{"s":"2024","d":238,"v":5.9},{"s":"2024","d":241.1,"v":5.9},{"s":"2024","d":243.1,"v":5.1},{"s":"2024","d":245,"v":4.4},{"s":"2024","d":247.3,"v":3.7},{"s":"2024","d":250.1,"v":3.4},{"s":"2024","d":251,"v":3.336}
]
},
"hconcat": [
{
  "width": 436, "height": 288,
  "title": {"text": "30大中城市:商品房成交面积:二线城市（7日平均）", "anchor": "start", "frame": "group", "dx": -59, "offset": 4},
  "layer": [
    {
      "data": {"name": "Lband"},
      "mark": {"type": "area", "color": "#e4e4e4"},
      "encoding": {
        "x": {"field": "d", "type": "quantitative", "scale": {"domain": [0, 365], "nice": false, "zero": false},
          "axis": {"title": null, "grid": false, "values": [32, 64, 96, 128, 160, 192, 224, 251, 256, 288, 320],
            "labelExpr": "datum.value == 251 ? '09-08' : ['02-02','03-05','04-06','05-08','06-09','07-11','08-','','10-15','11-16'][datum.value/32 - 1]",
            "tickColor": {"condition": {"test": "datum.value == 251", "value": "transparent"}, "value": "#555555"},
            "labelFontWeight": {"condition": {"test": "datum.value == 251", "value": "bold"}, "value": "normal"},
            "labelColor": {"condition": {"test": "datum.value == 251", "value": "#2f4554"}, "value": "#666666"},
            "labelFontSize": {"condition": {"test": "datum.value == 251", "value": 11.5}, "value": 11}}},
        "y": {"field": "hi", "type": "quantitative", "scale": {"domain": [0.23, 54], "nice": false, "zero": false},
          "axis": {"title": null, "values": [0.23, 8.915, 10, 20, 30, 40, 50, 54],
            "labelExpr": "datum.value == 10 ? '' : '' + datum.value",
            "gridColor": {"condition": {"test": "datum.value == 8.915 || datum.value == 0.23", "value": "transparent"}, "value": "#ebebeb"},
            "tickColor": {"condition": {"test": "datum.value == 8.915 || datum.value == 10", "value": "transparent"}, "value": "#555555"},
            "labelFontWeight": {"condition": {"test": "datum.value == 8.915", "value": "bold"}, "value": "normal"},
            "labelColor": {"condition": {"test": "datum.value == 8.915", "value": "#2f4554"}, "value": "#666666"},
            "labelFontSize": {"condition": {"test": "datum.value == 8.915", "value": 12.5}, "value": 11}}},
        "y2": {"field": "lo"}
      }
    },
    {
      "data": {"values": [{"d": 164, "v": 29.9, "t": "紫金天风期货"}]},
      "mark": {"type": "text", "font": "Noto Sans CJK SC", "fontSize": 19, "color": "#b8b8b8", "opacity": 0.75},
      "encoding": {
        "x": {"field": "d", "type": "quantitative", "axis": {"orient": "top", "labels": false, "ticks": false, "grid": false, "title": null, "domainColor": "#e2e2e2", "domainWidth": 2, "offset": 52}},
        "y": {"field": "v", "type": "quantitative"},
        "text": {"field": "t"}
      }
    },
    {
      "data": {"name": "Lline"},
      "transform": [{"filter": "datum.s == 'avg'"}],
      "mark": {"type": "line", "color": "#a8a8a8", "strokeWidth": 2, "strokeDash": [7, 5], "interpolate": "monotone"},
      "encoding": {
        "x": {"field": "d", "type": "quantitative", "axis": null},
        "y": {"field": "v", "type": "quantitative"}
      }
    },
    {
      "data": {"name": "Lline"},
      "transform": [{"filter": "datum.s == 'avg'"}],
      "mark": {"type": "line", "strokeWidth": 2, "opacity": 0},
      "encoding": {
        "x": {"field": "d", "type": "quantitative", "axis": null},
        "y": {"field": "v", "type": "quantitative"},
        "color": {"datum": "2017-2023均值", "type": "nominal",
          "scale": {"domain": ["2017-2023最大值", "2017-2023最小值", "2017-2023均值"], "range": ["#666666", "#666666", "#666666"]},
          "legend": {"title": null, "orient": "none", "legendX": -42, "legendY": -35, "direction": "horizontal",
            "symbolType": "M-1,0L-0.35,0M0.35,0L1,0M0.35,0A0.35,0.35,0,1,1,-0.35,0A0.35,0.35,0,1,1,0.35,0Z",
            "symbolSize": 400, "symbolStrokeWidth": 2, "symbolOpacity": 1, "labelOffset": 6, "columnPadding": 0, "labelFontSize": 10.5,
            "encode": {"symbols": {"update": {"fill": {"value": "#666666"}, "opacity": {"value": 1}}},
                       "labels": {"update": {"fill": {"value": "#333333"}}}}}}
      }
    },
    {
      "data": {"name": "Lline"},
      "transform": [{"filter": "datum.s != 'avg'"}],
      "mark": {"type": "line", "strokeWidth": 2, "interpolate": "monotone"},
      "encoding": {
        "x": {"field": "d", "type": "quantitative", "axis": null},
        "y": {"field": "v", "type": "quantitative"},
        "color": {"field": "s", "type": "nominal",
          "scale": {"domain": ["2017", "2018", "2019", "2020", "2021", "2022", "2023", "2024"], "range": ["#cccccc", "#cccccc", "#cccccc", "#cccccc", "#cccccc", "#cccccc", "#c9403b", "#2f4554"]},
          "legend": {"title": null, "orient": "none", "legendX": -42, "legendY": -53, "direction": "horizontal",
            "symbolType": "M-1,0L-0.35,0M0.35,0L1,0M0.35,0A0.35,0.35,0,1,1,-0.35,0A0.35,0.35,0,1,1,0.35,0Z",
            "symbolSize": 400, "symbolStrokeWidth": 2, "labelOffset": 6, "columnPadding": 1.5,
            "encode": {"symbols": {"update": {"fill": [{"test": "datum.value == '2023'", "value": "#c23531"}, {"test": "datum.value == '2024'", "value": "#2f4554"}, {"value": "#cccccc"}],
                                              "stroke": [{"test": "datum.value == '2023'", "value": "#c23531"}, {"test": "datum.value == '2024'", "value": "#2f4554"}, {"value": "#cccccc"}],
                                              "strokeWidth": {"value": 2}, "opacity": {"value": 1}}},
                       "labels": {"update": {"fill": [{"test": "datum.value == '2023' || datum.value == '2024'", "value": "#333333"}, {"value": "#c4c4c4"}]}}}}}
      }
    }
  ],
  "resolve": {"axis": {"x": "independent"}, "scale": {"color": "independent"}, "legend": {"color": "independent"}}
},
{
  "width": 436, "height": 288,
  "title": {"text": "30大中城市:商品房成交面积:三线城市（7日平均）", "anchor": "start", "frame": "group", "dx": -59, "offset": 4},
  "layer": [
    {
      "data": {"name": "Rband"},
      "mark": {"type": "area", "color": "#e4e4e4"},
      "encoding": {
        "x": {"field": "d", "type": "quantitative", "scale": {"domain": [0, 365], "nice": false, "zero": false},
          "axis": {"title": null, "grid": false, "values": [32, 64, 96, 128, 160, 192, 224, 251, 256, 288, 320],
            "labelExpr": "datum.value == 251 ? '09-08' : ['02-02','03-05','04-06','05-08','06-09','07-11','08-','','10-15','11-16'][datum.value/32 - 1]",
            "tickColor": {"condition": {"test": "datum.value == 251", "value": "transparent"}, "value": "#555555"},
            "labelFontWeight": {"condition": {"test": "datum.value == 251", "value": "bold"}, "value": "normal"},
            "labelColor": {"condition": {"test": "datum.value == 251", "value": "#2f4554"}, "value": "#666666"},
            "labelFontSize": {"condition": {"test": "datum.value == 251", "value": 11.5}, "value": 11}}},
        "y": {"field": "hi", "type": "quantitative", "scale": {"domain": [0.093, 29], "nice": false, "zero": false},
          "axis": {"title": null, "values": [0.093, 3.336, 5, 10, 15, 20, 25, 29],
            "labelExpr": "'' + datum.value",
            "gridColor": {"condition": {"test": "datum.value == 3.336 || datum.value == 0.093", "value": "transparent"}, "value": "#ebebeb"},
            "tickColor": {"condition": {"test": "datum.value == 3.336", "value": "transparent"}, "value": "#555555"},
            "labelFontWeight": {"condition": {"test": "datum.value == 3.336", "value": "bold"}, "value": "normal"},
            "labelColor": {"condition": {"test": "datum.value == 3.336", "value": "#2f4554"}, "value": "#666666"},
            "labelFontSize": {"condition": {"test": "datum.value == 3.336", "value": 12.5}, "value": 11}}},
        "y2": {"field": "lo"}
      }
    },
    {
      "data": {"values": [{"d": 163.5, "v": 16, "t": "紫金天风期货"}]},
      "mark": {"type": "text", "font": "Noto Sans CJK SC", "fontSize": 19, "color": "#b8b8b8", "opacity": 0.75},
      "encoding": {
        "x": {"field": "d", "type": "quantitative", "axis": {"orient": "top", "labels": false, "ticks": false, "grid": false, "title": null, "domainColor": "#e2e2e2", "domainWidth": 2, "offset": 52}},
        "y": {"field": "v", "type": "quantitative"},
        "text": {"field": "t"}
      }
    },
    {
      "data": {"name": "Rline"},
      "transform": [{"filter": "datum.s == 'avg'"}],
      "mark": {"type": "line", "color": "#a8a8a8", "strokeWidth": 2, "strokeDash": [7, 5], "interpolate": "monotone"},
      "encoding": {
        "x": {"field": "d", "type": "quantitative", "axis": null},
        "y": {"field": "v", "type": "quantitative"}
      }
    },
    {
      "data": {"name": "Rline"},
      "transform": [{"filter": "datum.s == 'avg'"}],
      "mark": {"type": "line", "strokeWidth": 2, "opacity": 0},
      "encoding": {
        "x": {"field": "d", "type": "quantitative", "axis": null},
        "y": {"field": "v", "type": "quantitative"},
        "color": {"datum": "2017-2023均值", "type": "nominal",
          "scale": {"domain": ["2017-2023最大值", "2017-2023最小值", "2017-2023均值"], "range": ["#666666", "#666666", "#666666"]},
          "legend": {"title": null, "orient": "none", "legendX": -42, "legendY": -35, "direction": "horizontal",
            "symbolType": "M-1,0L-0.35,0M0.35,0L1,0M0.35,0A0.35,0.35,0,1,1,-0.35,0A0.35,0.35,0,1,1,0.35,0Z",
            "symbolSize": 400, "symbolStrokeWidth": 2, "symbolOpacity": 1, "labelOffset": 6, "columnPadding": 0, "labelFontSize": 10.5,
            "encode": {"symbols": {"update": {"fill": {"value": "#666666"}, "opacity": {"value": 1}}},
                       "labels": {"update": {"fill": {"value": "#333333"}}}}}}
      }
    },
    {
      "data": {"name": "Rline"},
      "transform": [{"filter": "datum.s != 'avg'"}],
      "mark": {"type": "line", "strokeWidth": 2, "interpolate": "monotone"},
      "encoding": {
        "x": {"field": "d", "type": "quantitative", "axis": null},
        "y": {"field": "v", "type": "quantitative"},
        "color": {"field": "s", "type": "nominal",
          "scale": {"domain": ["2017", "2018", "2019", "2020", "2021", "2022", "2023", "2024"], "range": ["#cccccc", "#cccccc", "#cccccc", "#cccccc", "#cccccc", "#cccccc", "#c9403b", "#2f4554"]},
          "legend": {"title": null, "orient": "none", "legendX": -42, "legendY": -53, "direction": "horizontal",
            "symbolType": "M-1,0L-0.35,0M0.35,0L1,0M0.35,0A0.35,0.35,0,1,1,-0.35,0A0.35,0.35,0,1,1,0.35,0Z",
            "symbolSize": 400, "symbolStrokeWidth": 2, "labelOffset": 6, "columnPadding": 1.5,
            "encode": {"symbols": {"update": {"fill": [{"test": "datum.value == '2023'", "value": "#c23531"}, {"test": "datum.value == '2024'", "value": "#2f4554"}, {"value": "#cccccc"}],
                                              "stroke": [{"test": "datum.value == '2023'", "value": "#c23531"}, {"test": "datum.value == '2024'", "value": "#2f4554"}, {"value": "#cccccc"}],
                                              "strokeWidth": {"value": 2}, "opacity": {"value": 1}}},
                       "labels": {"update": {"fill": [{"test": "datum.value == '2023' || datum.value == '2024'", "value": "#333333"}, {"value": "#c4c4c4"}]}}}}}
      }
    }
  ],
  "resolve": {"axis": {"x": "independent"}, "scale": {"color": "independent"}, "legend": {"color": "independent"}}
}
],
"resolve": {"scale": {"x": "independent", "y": "independent", "color": "independent"}, "legend": {"color": "independent"}}
}
